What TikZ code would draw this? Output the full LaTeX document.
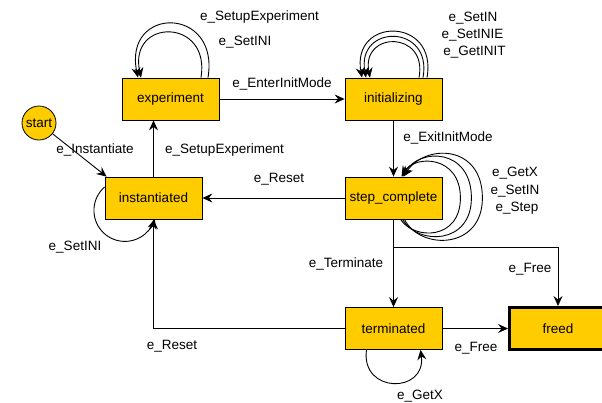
\documentclass[tikz,border=0pt]{standalone}
\usepackage{fontspec}
\setmainfont{Liberation Sans}
\usetikzlibrary{arrows.meta,calc}
\definecolor{stfill}{HTML}{FFCC00}
\begin{document}
\begin{tikzpicture}[x=1pt,y=-1pt,
  state/.style={draw=black, fill=stfill, line width=0.8pt, minimum width=97pt, minimum height=42pt, inner sep=0pt, font=\fontsize{13.5}{16}\selectfont},
  lbl/.style={font=\fontsize{13.5}{16}\selectfont, inner sep=0pt},
  edge/.style={draw=black, line width=0.9pt, -{Stealth[length=10pt,width=9pt,inset=3.5pt]}},
]
\useasboundingbox (0,0) rectangle (602,402);
% states
\node[state] (exp) at (170.5,99) {experiment};
\node[state] (init) at (393.5,99) {initializing};
\node[state] (inst) at (153.5,198) {instantiated};
\node[state] (sc) at (393.5,198) {step\_complete};
\node[state] (term) at (393.5,328.5) {terminated};
\node[state, line width=3pt] (freed) at (558,328.5) {freed};
\node[state, circle, minimum width=34pt, minimum height=34pt] (start) at (39,123) {start};
% transitions
\draw[edge] (exp) -- (init);
\draw[edge] (init) -- (sc);
\draw[edge] (inst.north) -- (inst.north |- exp.south);
\draw[edge] (start) -- ($(inst.north west)+(2,0)$);
\draw[edge] (sc) -- (inst);
\draw[edge] (sc) -- (term);
\draw[edge] (sc.south) -- ++(0,28) -| (freed.north);
\draw[edge] (term) -- (freed);
\draw[edge] (term.west) -| (inst.south);
% self loops: experiment
\draw[edge] ($(exp.north)+(37.5,0)$) .. controls +(12,-72) and +(-15,-72) .. ($(exp.north)+(-32.5,0)$);
\draw[edge] ($(exp.north)+(30.5,0)$) .. controls +(10,-60) and +(-13,-60) .. ($(exp.north)+(-29.5,0)$);
% self loops: initializing
\draw[edge] ($(init.north)+(33.5,0)$) .. controls +(11,-61) and +(-11,-61) .. ($(init.north)+(-31.5,0)$);
\draw[edge] ($(init.north)+(29.5,0)$) .. controls +(10,-54) and +(-10,-54) .. ($(init.north)+(-27.5,0)$);
\draw[edge] ($(init.north)+(25.5,0)$) .. controls +(9,-47) and +(-9,-47) .. ($(init.north)+(-23.5,0)$);
% self loops: step_complete
\draw[edge] ($(sc.south)+(11,0)$) .. controls ($(sc.south)+(26.5,31)$) and ($(sc.east)+(40,52)$) .. ($(sc.east)+(40,0)$)
  .. controls ($(sc.east)+(40,-54)$) and ($(sc.north)+(31.5,-33)$) .. ($(sc.north)+(10,0)$);
\draw[edge] ($(sc.south)+(9,0)$) .. controls ($(sc.south)+(24,26)$) and ($(sc.east)+(29,47)$) .. ($(sc.east)+(29,0)$)
  .. controls ($(sc.east)+(29,-50)$) and ($(sc.north)+(26,-29)$) .. ($(sc.north)+(9,0)$);
\draw[edge] ($(sc.south)+(7,0)$) .. controls ($(sc.south)+(21,21)$) and ($(sc.east)+(18,42)$) .. ($(sc.east)+(18,0)$)
  .. controls ($(sc.east)+(18,-43)$) and ($(sc.north)+(21,-22)$) .. ($(sc.north)+(8,0)$);
% self loop: instantiated
\draw[edge] ($(inst.west)+(0,-11)$) arc[start angle=229, end angle=16, radius=31];
% self loop: terminated
\draw[edge] ($(term.south)+(-27,0)$) .. controls +(-6,44) and +(6,44) .. ($(term.south)+(27,0)$);
% labels
\node[lbl] (l1) at (259.5,17) {e\_SetupExperiment};
\node[lbl] (l2) at (245,42) {e\_SetINI};
\node[lbl] (l3) at (282,84) {e\_EnterInitMode};
\node[lbl] (l4) at (473,18) {e\_SetIN};
\node[lbl] (l5) at (472.5,35) {e\_SetINIE};
\node[lbl] (l6) at (474.5,52) {e\_GetINIT};
\node[lbl] (l7) at (448,138) {e\_ExitInitMode};
\node[lbl] (l8) at (515,173) {e\_GetX};
\node[lbl] (l9) at (515,191) {e\_SetIN};
\node[lbl] (l10) at (517,208) {e\_Step};
\node[lbl] (l11) at (95,150) {e\_Instantiate};
\node[lbl] (l12) at (224.5,150) {e\_SetupExperiment};
\node[lbl] (l13) at (279,179) {e\_Reset};
\node[lbl] (l14) at (75,247) {e\_SetINI};
\node[lbl] (l15) at (346,264) {e\_Terminate};
\node[lbl] (l16) at (530,269) {e\_Free};
\node[lbl] (l17) at (172,346) {e\_Reset};
\node[lbl] (l18) at (476,348) {e\_Free};
\node[lbl] (l19) at (420,396) {e\_GetX};
\end{tikzpicture}
\end{document}
